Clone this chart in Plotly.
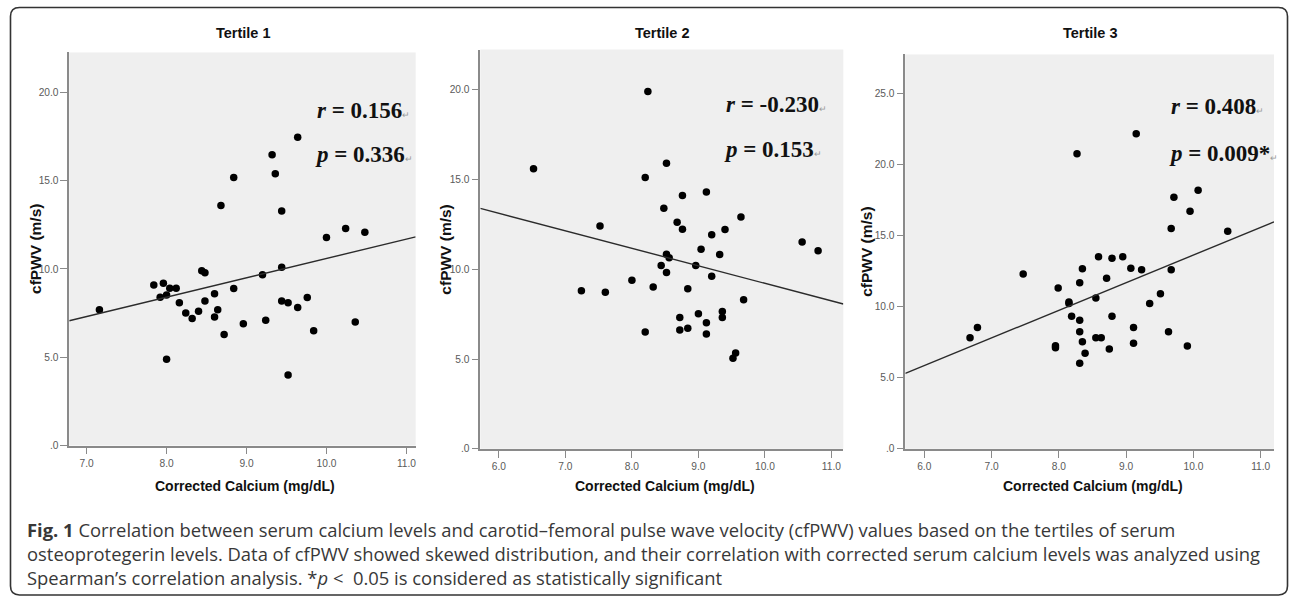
import plotly.graph_objects as go

W, H = 1290, 603

# ---------------- data ----------------
t1_calcium = [7.16, 7.84, 7.92, 7.96, 8.00, 8.04, 8.12, 8.00, 8.16, 8.24, 8.32, 8.40, 8.44, 8.48,
              8.48, 8.60, 8.60, 8.64, 8.68, 8.72, 8.84, 8.84, 8.96, 9.20, 9.24, 9.32, 9.36, 9.44,
              9.44, 9.44, 9.52, 9.52, 9.64, 9.64, 9.76, 9.84, 10.00, 10.24, 10.36, 10.48]
t1_cfpwv = [7.69, 9.09, 8.40, 9.19, 8.52, 8.91, 8.91, 4.89, 8.09, 7.51, 7.19, 7.60, 9.90, 9.79,
            8.18, 8.59, 7.28, 7.69, 13.59, 6.29, 15.18, 8.89, 6.89, 9.67, 7.10, 16.47, 15.39, 13.28,
            10.10, 8.18, 8.09, 4.00, 17.46, 7.81, 8.38, 6.50, 11.78, 12.29, 7.00, 12.08]

t2_calcium = [6.52, 7.24, 7.52, 7.60, 8.00, 8.20, 8.20, 8.24, 8.32, 8.44, 8.48, 8.52, 8.52, 8.56,
              8.52, 8.68, 8.72, 8.72, 8.76, 8.76, 8.84, 8.84, 8.96, 9.00, 9.04, 9.12, 9.12, 9.12,
              9.20, 9.20, 9.32, 9.36, 9.36, 9.40, 9.52, 9.56, 9.64, 9.68, 10.56, 10.80]
t2_cfpwv = [15.61, 8.81, 12.42, 8.72, 9.39, 15.12, 6.51, 19.91, 9.01, 10.22, 13.41, 15.91, 10.84, 10.64,
            9.82, 12.62, 7.32, 6.62, 14.11, 12.24, 8.92, 6.72, 10.22, 7.52, 11.12, 14.31, 7.03, 6.40,
            11.93, 9.61, 10.83, 7.65, 7.32, 12.22, 5.05, 5.34, 12.92, 8.31, 11.52, 11.03]

t3_calcium = [6.68, 6.79, 7.47, 7.95, 7.95, 7.99, 8.15, 8.15, 8.19, 8.31, 8.31, 8.31, 8.31, 8.35,
              8.35, 8.39, 8.55, 8.55, 8.59, 8.63, 8.71, 8.75, 8.79, 8.79, 8.95, 8.27, 9.07, 9.11,
              9.11, 9.15, 9.23, 9.35, 9.51, 9.63, 9.67, 9.67, 9.71, 9.91, 9.95, 10.07, 10.51]
t3_cfpwv = [7.80, 8.52, 12.29, 7.10, 7.25, 11.30, 10.32, 10.22, 9.31, 11.67, 9.03, 8.22, 6.02, 12.66,
            7.52, 6.71, 10.60, 7.80, 13.50, 7.80, 11.99, 7.01, 13.40, 9.31, 13.50, 20.74, 12.69, 8.52,
            7.41, 22.15, 12.59, 10.21, 10.90, 8.22, 15.49, 12.59, 17.69, 7.22, 16.69, 18.17, 15.30]

# fitted lines (slope, intercept) as drawn in the picture
fit_slope = [1.097, -0.976, 1.943]
fit_intercept = [-0.377, 18.98, -5.81]

panel_titles = ["Tertile 1", "Tertile 2", "Tertile 3"]
r_text = ["0.156", "-0.230", "0.408"]
p_text = ["0.336", "0.153", "0.009*"]

x_ranges = [[6.7825, 11.116], [5.72, 11.18], [5.718, 11.198]]
y_ranges = [[0, 22.26], [0, 22.25], [0, 27.72]]
x_tickvals = [[7, 8, 9, 10, 11], [6, 7, 8, 9, 10, 11], [6, 7, 8, 9, 10, 11]]
y_tickvals = [[0, 5, 10, 15, 20], [0, 5, 10, 15, 20], [0, 5, 10, 15, 20, 25]]

def fmt(v):
    return ".0" if v == 0 else f"{v:.1f}"

xs = [t1_calcium, t2_calcium, t3_calcium]
ys = [t1_cfpwv, t2_cfpwv, t3_cfpwv]

# ---------------- layout geometry (pixels) ----------------
plot_px = [  # left, right, top, bottom
    (69.3, 416.0, 53.0, 450.0),
    (480.7, 844.0, 50.0, 453.3),
    (906.0, 1275.0, 55.0, 453.3),
]
ytitle_px = [(35.5, 251), (445.5, 252), (867.0, 254)]
rp_px = [(315, 112, 156), (725, 106, 151), (1170, 108, 155)]

def px(x):
    return x / W

def py(y):
    return 1 - y / H

SANS = "Liberation Sans Narrow, Arial Narrow, Liberation Sans, Arial, sans-serif"

fig = go.Figure()
annotations = []

for i in range(3):
    n = i + 1
    xa = "x" if n == 1 else f"x{n}"
    ya = "y" if n == 1 else f"y{n}"
    fig.add_trace(go.Scatter(
        x=xs[i], y=ys[i], mode="markers", xaxis=xa, yaxis=ya,
        marker=dict(color="black", size=7.5, line=dict(width=0)),
        showlegend=False, hoverinfo="x+y"))
    x0, x1 = x_ranges[i]
    fig.add_trace(go.Scatter(
        x=[x0, x1],
        y=[fit_slope[i] * x0 + fit_intercept[i], fit_slope[i] * x1 + fit_intercept[i]],
        mode="lines", xaxis=xa, yaxis=ya,
        line=dict(color="#2b2b2b", width=1.4), showlegend=False, hoverinfo="skip"))

    l, r, t, b = plot_px[i]
    axis_common = dict(showgrid=False, zeroline=False, showline=True, linecolor="#8a8a8a",
                       linewidth=1.5, ticks="outside", ticklen=7, tickwidth=1.3,
                       tickcolor="#8a8a8a", tickfont=dict(family=SANS, size=10.2, color="#5a5a5a"),
                       fixedrange=True)
    fig.layout[f"xaxis{'' if n == 1 else n}"] = dict(
        domain=[px(l), px(r)], anchor=ya, range=x_ranges[i],
        tickvals=x_tickvals[i], ticktext=[fmt(v) for v in x_tickvals[i]], **axis_common)
    fig.layout[f"yaxis{'' if n == 1 else n}"] = dict(
        domain=[py(b), py(t)], anchor=xa, range=y_ranges[i],
        tickvals=y_tickvals[i], ticktext=[fmt(v) for v in y_tickvals[i]], ticklabelstandoff=0,
        **axis_common)

    cx = (l + r) / 2
    annotations.append(dict(text=f"<b>{panel_titles[i]}</b>", x=px(cx + 1), y=py(33),
                            xref="paper", yref="paper", showarrow=False,
                            font=dict(family=SANS, size=14.5, color="#111"),
                            xanchor="center", yanchor="middle"))
    annotations.append(dict(text="<b>Corrected Calcium (mg/dL)</b>", x=px(cx + 3), y=py(491),
                            xref="paper", yref="paper", showarrow=False,
                            font=dict(family=SANS, size=14, color="#111"),
                            xanchor="center", yanchor="middle"))
    tx, tyy = ytitle_px[i]
    annotations.append(dict(text="<b>cfPWV (m/s)</b>", x=px(tx), y=py(tyy), textangle=-90,
                            xref="paper", yref="paper", showarrow=False,
                            font=dict(family="Liberation Sans, Arial, sans-serif", size=15.5, color="#111"),
                            xanchor="center", yanchor="middle"))
    rx, ry, pyy = rp_px[i]
    mark = '<span style="font-size:9px;color:#9a9a9a">\u21b5</span>'
    annotations.append(dict(text=f"<b><i>r</i> = {r_text[i]}</b>{mark}", x=px(rx), y=py(ry),
                            xref="paper", yref="paper", showarrow=False,
                            font=dict(family="Liberation Serif, Times New Roman, serif", size=23, color="#111"),
                            xanchor="left", yanchor="middle"))
    annotations.append(dict(text=f"<b><i>p</i> = {p_text[i]}</b>{mark}", x=px(rx - 2), y=py(pyy),
                            xref="paper", yref="paper", showarrow=False,
                            font=dict(family="Liberation Serif, Times New Roman, serif", size=23, color="#111"),
                            xanchor="left", yanchor="middle"))

caption = ("<b>Fig. 1</b> Correlation between serum calcium levels and carotid\u2013femoral pulse wave velocity (cfPWV) values based on the tertiles of serum"
           "<br>osteoprotegerin levels. Data of cfPWV showed skewed distribution, and their correlation with corrected serum calcium levels was analyzed using"
           "<br>Spearman\u2019s correlation analysis. *<i>p</i> &lt;  0.05 is considered as statistically significant")
annotations.append(dict(text=caption, x=px(25), y=py(520), xref="paper", yref="paper",
                        showarrow=False, align="left", xanchor="left", yanchor="top",
                        font=dict(family="Open Sans, Noto Sans, sans-serif", size=18.4, color="#383838")))

# rounded outer frame
fl, fr, ft, fb, rad = 10.5, 1288.5, 7.5, 601.0, 9
path = (f"M {px(fl + rad)},{py(ft)} L {px(fr - rad)},{py(ft)} "
        f"Q {px(fr)},{py(ft)} {px(fr)},{py(ft + rad)} L {px(fr)},{py(fb - rad)} "
        f"Q {px(fr)},{py(fb)} {px(fr - rad)},{py(fb)} L {px(fl + rad)},{py(fb)} "
        f"Q {px(fl)},{py(fb)} {px(fl)},{py(fb - rad)} L {px(fl)},{py(ft + rad)} "
        f"Q {px(fl)},{py(ft)} {px(fl + rad)},{py(ft)} Z")

fig.update_layout(
    width=W, height=H, margin=dict(l=0, r=0, t=0, b=0),
    paper_bgcolor="white", plot_bgcolor="#efefef",
    annotations=annotations,
    shapes=[dict(type="path", path=path, xref="paper", yref="paper",
                 line=dict(color="#333", width=1.6), fillcolor="rgba(0,0,0,0)", layer="below")],
    showlegend=False,
)

fig.write_html("out.html", include_plotlyjs=True, config={"displayModeBar": False},
               post_script="document.body.style.margin='0px';document.documentElement.style.overflow='hidden';")
